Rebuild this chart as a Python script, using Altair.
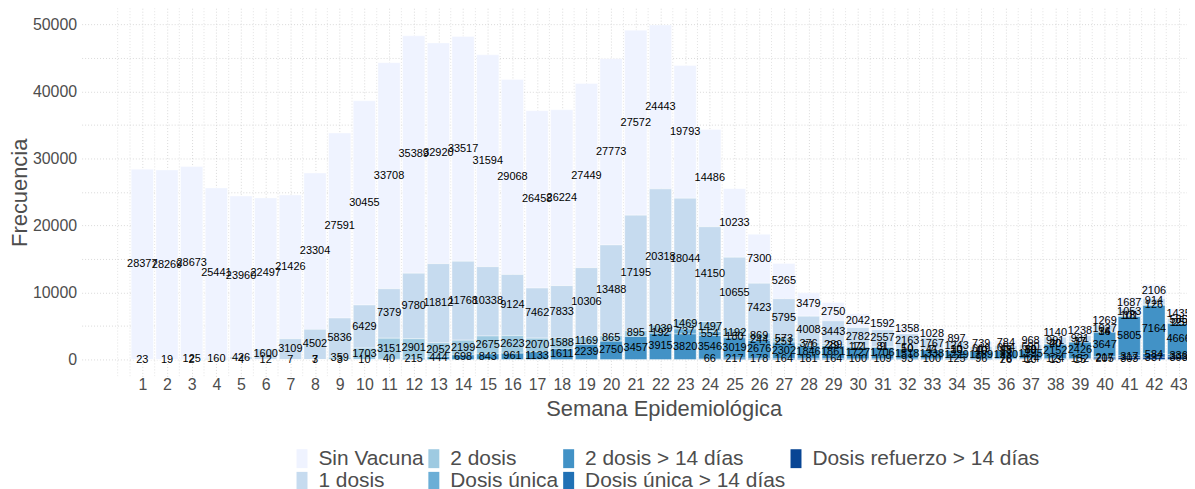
import altair as alt
import pandas as pd

weeks = list(range(1, 44))

sin_vacuna = [28377, 28269, 28673, 25441, 23960, 22497, 21426, 23304, 27591, 30455,
              33708, 35389, 32920, 33517, 31594, 29068, 26458, 26224, 27449, 27773,
              27572, 24443, 19793, 14486, 10233, 7300, 5265, 3479, 2750, 2042,
              1592, 1358, 1028, 897, 739, 784, 968, 1140, 1238, 1269,
              1687, 2106, 1435]
una_dosis = [23, 19, 125, 160, 426, 1600, 3109, 4502, 5836, 6429,
             7379, 9780, 11812, 11768, 10338, 9124, 7462, 7833, 10306, 13488,
             17195, 20318, 18044, 14150, 10655, 7423, 5795, 4008, 3443, 2782,
             2557, 2163, 1767, 1243, 619, 654, 690, 991, 931, 1027,
             1053, 914, 585]
dos_dosis = [0, 0, 2, 0, 4, 12, 7, 7, 359, 1703,
             3151, 2901, 2052, 2199, 2675, 2623, 2070, 1588, 1169, 865,
             895, 1039, 1469, 1497, 1192, 869, 573, 376, 289, 171,
             81, 50, 41, 30, 40, 95, 89, 40, 37, 34,
             101, 126, 129]
dosis_unica = [0] * 21 + [192, 737, 554, 180, 244, 251, 71, 29, 12,
                          9, 10, 7, 10, 10, 13, 10, 20, 17, 16,
                          18, 0, 25]
dos_dosis_14 = [0, 0, 0, 0, 0, 0, 0, 3, 3, 10,
                40, 215, 444, 698, 843, 961, 1133, 1611, 2239, 2750,
                3457, 3915, 3820, 3546, 3019, 2676, 2302, 1846, 1861, 1727,
                1706, 1518, 1338, 1229, 1169, 1230, 1295, 2152, 2426, 3647,
                5805, 7164, 4666]
unica_14 = [0] * 23 + [66, 217, 178, 164, 181, 164, 100,
                       109, 93, 100, 125, 96, 78, 124, 124, 152, 217,
                       317, 584, 336]
refuerzo_14 = [0] * 35 + [26, 10, 13, 15, 205, 303, 337, 393]

categorias = ["Sin Vacuna", "1 dosis", "2 dosis", "Dosis única",
              "2 dosis > 14 días", "Dosis única > 14 días", "Dosis refuerzo > 14 días"]
series = [sin_vacuna, una_dosis, dos_dosis, dosis_unica, dos_dosis_14, unica_14, refuerzo_14]

legend_order = ["Sin Vacuna", "2 dosis", "2 dosis > 14 días", "Dosis refuerzo > 14 días",
                "1 dosis", "Dosis única", "Dosis única > 14 días"]
legend_colors = ["#EFF3FF", "#9ECAE1", "#4292C6", "#084594",
                 "#C6DBEF", "#6BAED6", "#2171B5"]

# x-axis break positions (major at each week, minor halfway)
major_x = weeks
minor_x = [0.0] + [w + 0.5 for w in range(0, 44)]

rows = []
for ci, (c, vals) in enumerate(zip(categorias, series)):
    for w, v in zip(weeks, vals):
        if v > 0:
            rows.append({"semana": w, "grupo": c, "n": v, "orden": 6 - ci})
df = pd.DataFrame(rows)

FONT = "Liberation Sans"
GRAY = "#4D4D4D"
GRID = "#D0D0D0"
XTITLE = "Semana Epidemiológica"

xs = alt.Scale(domain=[-1.46, 43.34], nice=False, zero=False)
ys = alt.Scale(domain=[-2495, 52402], nice=False, zero=False)

xaxis = alt.Axis(
    values=major_x,
    labelOverlap=False, labelFlush=False,
    grid=True, gridDash=[1, 2], gridColor=GRID, gridWidth=0.8,
    ticks=False, domain=False,
    labelFont=FONT, labelFontSize=16, labelColor=GRAY, labelPadding=0,
    titleFont=FONT, titleFontSize=22, titleColor=GRAY, titleFontWeight="normal",
    titlePadding=6, titleX=585,
)
yaxis = alt.Axis(
    values=list(range(0, 50001, 5000)),
    labelExpr="datum.value % 10000 == 0 ? datum.value : ''",
    labelOverlap=False, labelFlush=False,
    grid=True, gridDash=[1, 2], gridColor=GRID, gridWidth=0.8,
    ticks=False, domain=False,
    labelFont=FONT, labelFontSize=16, labelColor=GRAY, labelPadding=5,
    titleFont=FONT, titleFontSize=22, titleColor=GRAY, titleFontWeight="normal",
    titlePadding=1,
)

minor = alt.Chart(pd.DataFrame({"g": minor_x})).mark_rule(
    strokeDash=[1, 2], color=GRID, strokeWidth=0.6, clip=True
).encode(x=alt.X("g:Q", scale=xs, axis=xaxis, title=XTITLE))

base = alt.Chart(df).transform_stack(
    stack="n", groupby=["semana"], as_=["y0", "y1"],
    sort=[alt.SortField("orden", order="ascending")],
).transform_calculate(
    x0="datum.semana - 0.45", x1="datum.semana + 0.45",
    ym="(datum.y0 + datum.y1) / 2",
)

bars = base.mark_bar(stroke="white", strokeWidth=0.4, clip=True).encode(
    x=alt.X("x0:Q", scale=xs, axis=xaxis, title=XTITLE),
    x2="x1:Q",
    y=alt.Y("y0:Q", scale=ys, axis=yaxis, title="Frecuencia"),
    y2="y1:Q",
    color=alt.Color(
        "grupo:N",
        scale=alt.Scale(domain=legend_order, range=legend_colors),
        legend=alt.Legend(
            title=None, orient="none", legendX=215, legendY=442,
            columns=4, direction="horizontal", gridAlign="each",
            symbolType="M-1,-1H0.16V1H-1Z", symbolSize=361,
            symbolStrokeWidth=0, symbolOpacity=1,
            labelFont=FONT, labelFontSize=21, labelColor=GRAY,
            labelOffset=2, columnPadding=3.5, rowPadding=1,
            labelLimit=400,
        ),
    ),
)

labels = base.mark_text(font=FONT, fontSize=11, color="black", clip=True).encode(
    x=alt.X("semana:Q", scale=xs, axis=xaxis, title=XTITLE),
    y=alt.Y("ym:Q", scale=ys, axis=yaxis, title="Frecuencia"),
    text=alt.Text("n:Q", format="d"),
)

chart = alt.layer(minor, bars, labels).properties(
    width=1111, height=370,
    autosize=alt.AutoSizeParams(type="none"),
    padding={"left": 74, "top": -1, "right": 0, "bottom": 112},
    background="white",
).configure_view(stroke=None)

chart.save("out.html", embed_options={"renderer": "svg", "actions": False})
